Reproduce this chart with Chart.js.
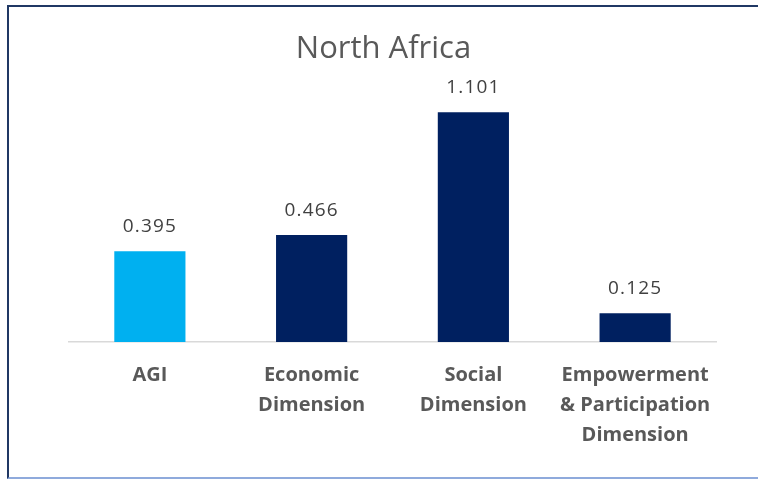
<!DOCTYPE html>
<html lang="en">

<head>
    <meta charset="UTF-8">
    <title>North Africa</title>
    <script src="https://cdn.jsdelivr.net/npm/chart.js"></script>
    <style>
        body {
            margin: 0;
            background: #fff;
            overflow: hidden;
        }

        #chartContainer {
            position: absolute;
            left: 7px;
            top: 5px;
            width: 760px;
            height: 470px;
            border: 2px solid #203864;
            border-bottom-color: #8FAADC;
        }
    </style>
</head>

<body>
    <div id="chartContainer">
        <canvas id="northAfricaChart"></canvas>
    </div>

    <script>
        // Index values for North Africa
        const categories = [
            ['AGI'],
            ['Economic', 'Dimension'],
            ['Social', 'Dimension'],
            ['Empowerment', '& Participation', 'Dimension']
        ];
        const values = [0.395, 0.466, 1.101, 0.125];
        const barColors = ['#00B0F0', '#002060', '#002060', '#002060'];

        const fontFamily = "'Open Sans', sans-serif";

        // Writes the value above each bar (kept inside the plot if the bar is cut off)
        const valueLabels = {
            id: 'valueLabels',
            afterDatasetsDraw(chart) {
                const ctx = chart.ctx;
                const area = chart.chartArea;
                const meta = chart.getDatasetMeta(0);
                ctx.save();
                ctx.font = '19px ' + fontFamily;
                ctx.letterSpacing = '1.2px';
                ctx.fillStyle = '#404040';
                ctx.textAlign = 'center';
                ctx.textBaseline = 'alphabetic';
                meta.data.forEach((bar, i) => {
                    const top = Math.max(bar.y, area.top);
                    ctx.fillText(values[i].toFixed(3), bar.x, top - 19);
                });
                ctx.restore();
            }
        };

        const ctx = document.getElementById('northAfricaChart').getContext('2d');
        const chart = new Chart(ctx, {
            type: 'bar',
            data: {
                labels: categories,
                datasets: [{
                    data: values,
                    backgroundColor: barColors,
                    categoryPercentage: 1,
                    barPercentage: 0.44,
                    clip: 0
                }]
            },
            options: {
                responsive: true,
                maintainAspectRatio: false,
                animation: false,
                layout: {
                    padding: { left: 42, right: 53, bottom: 0 }
                },
                plugins: {
                    legend: { display: false },
                    tooltip: { enabled: false },
                    title: {
                        display: true,
                        text: 'North Africa',
                        color: '#595959',
                        font: { family: fontFamily, size: 31, weight: 'normal', lineHeight: 1.2 },
                        padding: { top: 24, bottom: 44 }
                    }
                },
                scales: {
                    x: {
                        grid: { display: false, drawTicks: false },
                        border: { color: '#D9D9D9', width: 1.5 },
                        ticks: {
                            color: '#595959',
                            padding: 18,
                            maxRotation: 0,
                            autoSkip: false,
                            font: { family: fontFamily, size: 20, weight: 'bold', lineHeight: '30px' }
                        },
                        afterFit(scale) {
                            scale.height = 135;
                        }
                    },
                    y: {
                        min: 0,
                        max: 1,
                        grid: { display: false },
                        border: { display: false },
                        ticks: { display: false },
                        afterFit(scale) {
                            scale.width = 18;
                        }
                    }
                }
            },
            plugins: [valueLabels]
        });
    </script>
</body>

</html>
